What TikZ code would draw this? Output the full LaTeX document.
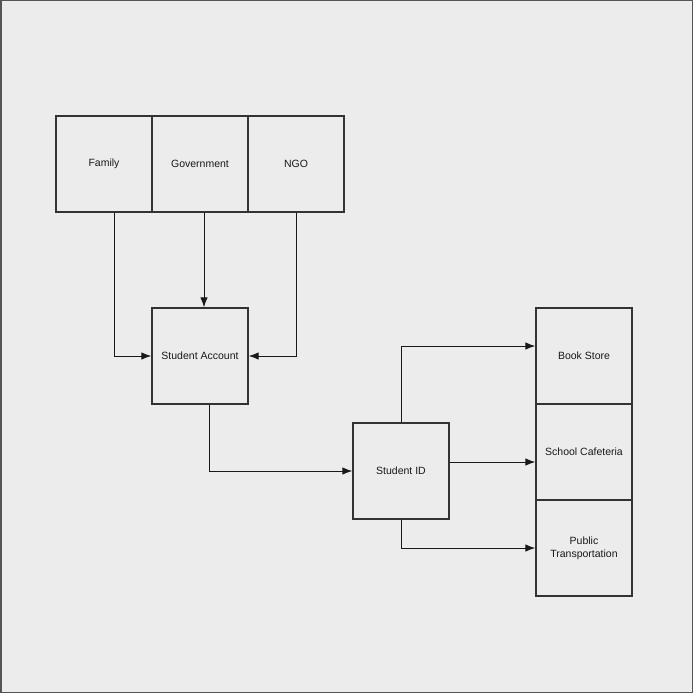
\documentclass[tikz,border=0pt]{standalone}
\usepackage{fontspec}
\setmainfont{Liberation Sans}
\usetikzlibrary{arrows.meta}
\definecolor{bggray}{HTML}{ECECEC}
\definecolor{linegray}{HTML}{333333}
\definecolor{framegray}{HTML}{555555}
\tikzset{
  block/.style={draw=linegray, line width=1.3pt, fill=bggray, minimum size=96pt,
    inner sep=0pt, align=center, font=\fontsize{10.5}{13}\selectfont, text=black!90},
  link/.style={draw=black!90, line width=1pt, -{Latex[length=10pt,width=7.5pt]}}
}
\begin{document}
\begin{tikzpicture}[x=1pt,y=-1pt]
%% frame
\useasboundingbox (0,0) rectangle (693,693);
\draw[framegray, fill=bggray, line width=1.5pt] (0.75,0.75) rectangle (692.25,692.25);
%% sources
\node[block] (family) at (104,164) {Family};
\node[block] (gov) at (200,164) {Government};
\node[block] (ngo) at (296,164) {NGO};
%% account and id
\node[block] (acct) at (200,356) {Student Account};
\node[block] (sid) at (401,471) {Student ID};
%% uses
\node[block] (book) at (584,356) {Book Store};
\node[block] (cafe) at (584,452) {School Cafeteria};
\node[block] (pub) at (584,548) {Public\\Transportation};
%% edges
\draw[link] ([xshift=10pt]family.south) |- (acct.west);
\draw[link] ([xshift=4pt]gov.south) -- ([xshift=4pt]acct.north);
\draw[link] (ngo.south) |- (acct.east);
\draw[link] ([xshift=9pt]acct.south) |- (sid.west);
\draw[link] (sid.north) |- ([yshift=10pt]book.west);
\draw[link] ([yshift=9pt]sid.east) -- ([yshift=-10pt]cafe.west);
\draw[link] (sid.south) |- (pub.west);
\end{tikzpicture}
\end{document}
